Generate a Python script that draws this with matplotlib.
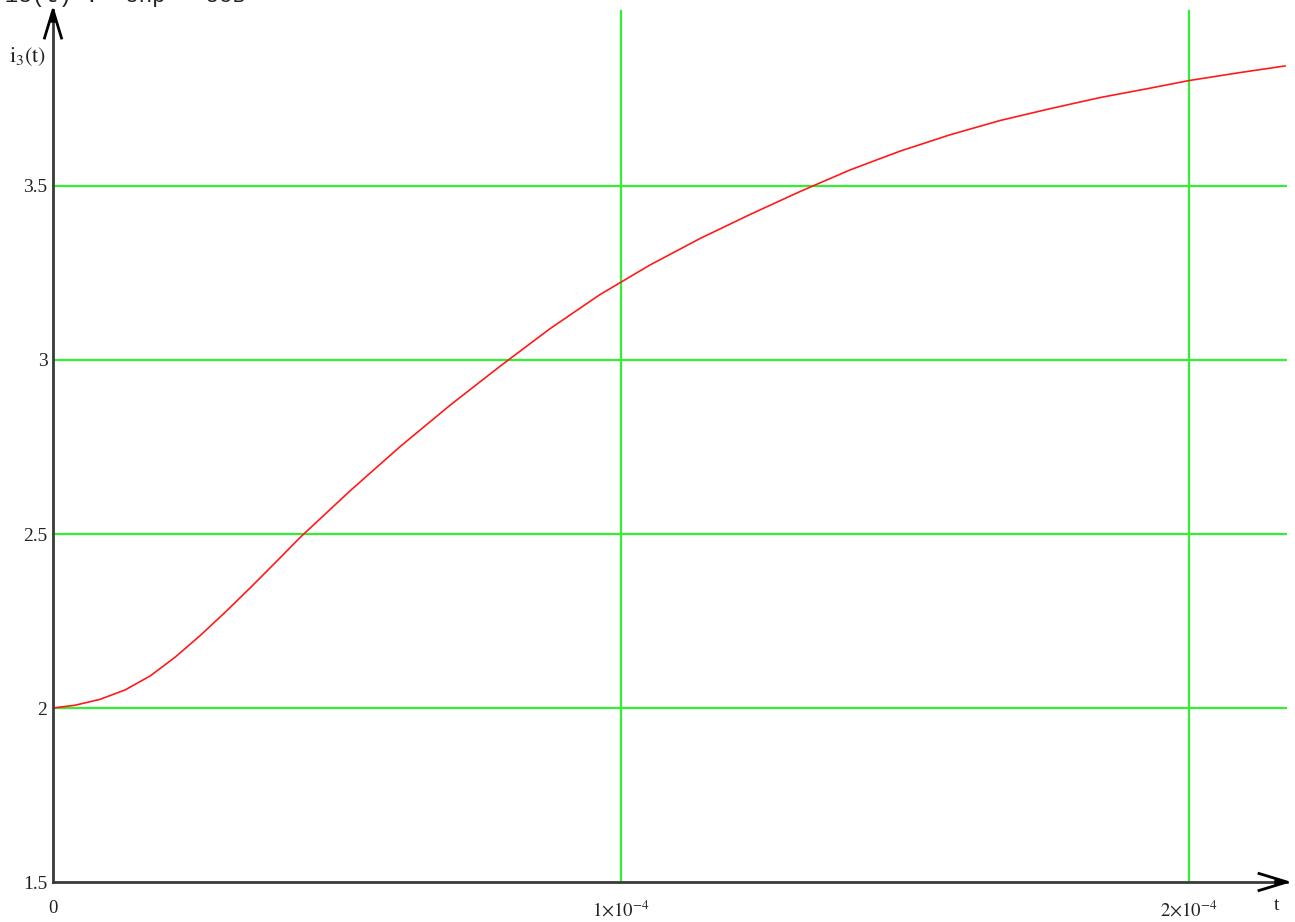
import matplotlib
matplotlib.use("Agg")
import matplotlib.pyplot as plt
import numpy as np

# Transient current i3(t): time in seconds, current in amperes
t_vals = np.array([0.000, 0.039, 0.083, 0.127, 0.171, 0.215, 0.259, 0.303,
                   0.347, 0.391, 0.435, 0.523, 0.611, 0.699, 0.787, 0.875,
                   0.963, 1.051, 1.139, 1.227, 1.315, 1.403, 1.491, 1.579,
                   1.667, 1.755, 1.843, 1.931, 2.000, 2.090, 2.169]) * 1e-4
i3_vals = np.array([2.000, 2.008, 2.025, 2.052, 2.092, 2.146, 2.208, 2.275,
                    2.345, 2.417, 2.490, 2.624, 2.751, 2.870, 2.982, 3.090,
                    3.188, 3.273, 3.349, 3.418, 3.484, 3.546, 3.600, 3.647,
                    3.688, 3.722, 3.754, 3.781, 3.803, 3.826, 3.845])

y_ticks = [1.5, 2, 2.5, 3, 3.5]
y_tick_labels = ["1.5", "2", "2.5", "3", "3.5"]
x_ticks = [0, 1e-4, 2e-4]
x_tick_labels = ["0", r"$1{\times}10^{-4}$", r"$2{\times}10^{-4}$"]

plt.rcParams["mathtext.fontset"] = "stix"
plt.rcParams["font.family"] = ["Liberation Serif", "DejaVu Serif"]

W, H = 1295, 922
fig = plt.figure(figsize=(W / 100, H / 100), dpi=100)
ax_l, ax_b, ax_w, ax_h = 53, 40, 1234, 872  # pixels
ax = fig.add_axes([ax_l / W, ax_b / H, ax_w / W, ax_h / H])

grid_green = "#33ee33"
axis_col = "#3a3a3a"

# horizontal and vertical grid lines
for yv in y_ticks[1:]:
    ax.axhline(yv, color=grid_green, lw=1.6, zorder=1)
for xv in x_ticks[1:]:
    ax.axvline(xv, color=grid_green, lw=1.6, zorder=1)

ax.plot(t_vals, i3_vals, color="#ff1a1a", lw=1.2, zorder=3)

ax.set_xlim(0, 2.1725e-4)
ax.set_ylim(1.5, 1.5 + ax_h / 348)

for s in ["top", "right"]:
    ax.spines[s].set_visible(False)
for s in ["left", "bottom"]:
    ax.spines[s].set_color(axis_col)
    ax.spines[s].set_linewidth(2)
    ax.spines[s].set_zorder(4)

ax.set_yticks(y_ticks)
ax.set_yticklabels(y_tick_labels)
ax.set_xticks(x_ticks)
ax.set_xticklabels(x_tick_labels)
ax.tick_params(axis="y", length=0, pad=4, labelsize=14, labelcolor="#222222")
ax.tick_params(axis="x", length=0, pad=13, labelsize=13.5, labelcolor="#222222")

# arrow heads at the ends of both axes
hl_y, hw_y = 28 / ax_h, 8.5 / ax_w
ax.plot([-hw_y, 0, hw_y], [1 - hl_y, 1, 1 - hl_y], transform=ax.transAxes,
        color="black", lw=2, clip_on=False, zorder=5)
ax.fill([-2.5 / ax_w, 0, 2.5 / ax_w], [1 - 12 / ax_h, 1, 1 - 12 / ax_h],
        transform=ax.transAxes, color="black", clip_on=False, zorder=5)
hl_x, hw_x = 28 / ax_w, 8.5 / ax_h
ax.plot([1 - hl_x, 1, 1 - hl_x], [hw_x, 0, -hw_x], transform=ax.transAxes,
        color="black", lw=2, clip_on=False, zorder=5)
ax.fill([1 - 12 / ax_w, 1, 1 - 12 / ax_w], [2.5 / ax_h, 0, -2.5 / ax_h],
        transform=ax.transAxes, color="black", clip_on=False, zorder=5)

# axis names
fig.text(9 / W, 1 - 62 / H, r"$\mathrm{i_3(t)}$", fontsize=16, color="#222222")
fig.text(1274 / W, 1 - 910 / H, "t", fontsize=14, color="#222222")

# definition line above the plot, cut by the top edge
fig.text(5 / W, 1 - 2 / H, "i3(t) := Uпр - Uсв", fontsize=16,
         family=["Liberation Mono", "DejaVu Sans Mono"], va="baseline",
         color="#222222")

fig.savefig("out.png", dpi=100)
